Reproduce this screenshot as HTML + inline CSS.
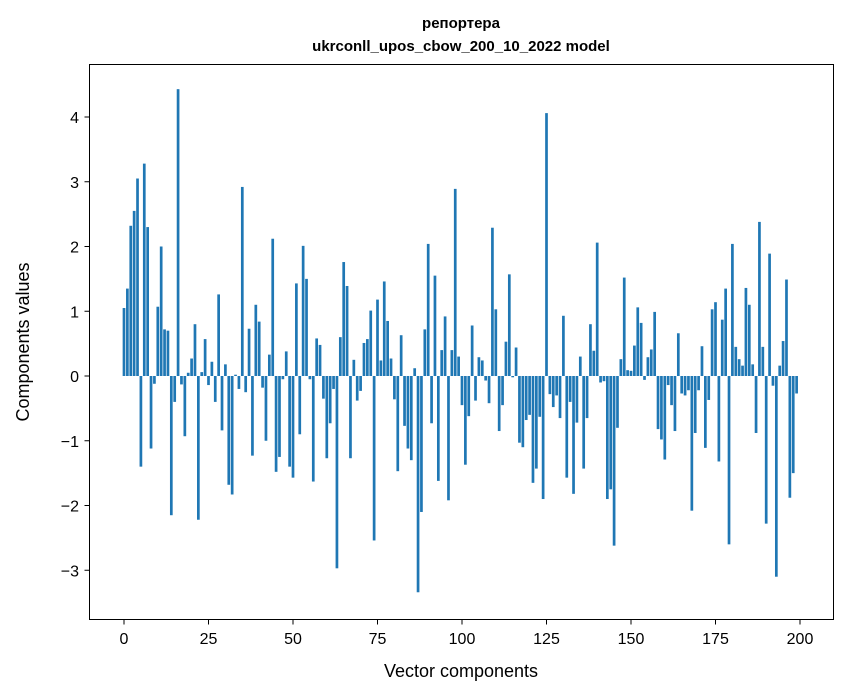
<!DOCTYPE html>
<html><head><meta charset="utf-8"><style>
body{margin:0;background:#fff;}
svg{display:block;font-family:"Liberation Sans","DejaVu Sans",sans-serif;}
</style></head><body>
<svg id="chart" width="847" height="696" viewBox="0 0 847 696">
<text x="461" y="28" text-anchor="middle" font-size="15" font-weight="bold">репортера</text>
<text x="461" y="51" text-anchor="middle" font-size="15" font-weight="bold">ukrconll_upos_cbow_200_10_2022 model</text>
<g id="bars"></g>
<rect x="89.5" y="64.5" width="744" height="555" fill="none" stroke="#000" stroke-width="1"/>
<g id="xticks"></g>
<g id="yticks"></g>
<text x="461" y="677" text-anchor="middle" font-size="18">Vector components</text>
<text transform="translate(29,342) rotate(-90)" text-anchor="middle" font-size="18">Components values</text>
</svg>
<script>
const values=[1.05,1.35,2.32,2.55,3.05,-1.4,3.28,2.3,-1.12,-0.12,1.07,2.0,0.72,0.7,-2.15,-0.4,4.43,-0.13,-0.93,0.05,
0.27,0.8,-2.22,0.06,0.57,-0.14,0.22,-0.4,1.26,-0.84,0.18,-1.68,-1.83,0.02,-0.2,2.92,-0.25,0.73,-1.23,1.1,
0.84,-0.18,-1.0,0.33,2.12,-1.48,-1.25,-0.05,0.38,-1.4,-1.57,1.43,-0.9,2.01,1.5,-0.05,-1.63,0.58,0.48,-0.35,
-1.27,-0.73,-0.2,-2.97,0.6,1.76,1.39,-1.27,0.25,-0.38,-0.23,0.51,0.57,1.01,-2.54,1.18,0.24,1.46,0.85,0.27,
-0.36,-1.47,0.63,-0.77,-1.12,-1.3,0.12,-3.34,-2.1,0.72,2.04,-0.73,1.55,-1.62,0.4,0.92,-1.92,0.4,2.89,0.3,
-0.45,-1.37,-0.62,0.78,-0.38,0.29,0.24,-0.07,-0.42,2.29,1.03,-0.85,-0.45,0.53,1.57,-0.02,0.44,-1.03,-1.1,-0.68,
-0.6,-1.65,-1.43,-0.63,-1.9,4.06,-0.28,-0.48,-0.3,-0.65,0.93,-1.57,-0.4,-1.82,-0.72,0.3,-1.43,-0.65,0.8,0.39,
2.06,-0.1,-0.08,-1.9,-1.75,-2.62,-0.8,0.26,1.52,0.09,0.08,0.47,1.06,0.82,-0.06,0.29,0.41,0.99,-0.82,-0.98,
-1.29,-0.14,-0.45,-0.85,0.66,-0.27,-0.3,-0.22,-2.08,-0.88,-0.22,0.46,-1.11,-0.37,1.03,1.14,-1.32,0.87,1.35,-2.6,
2.04,0.45,0.26,0.16,1.36,1.1,0.18,-0.88,2.38,0.45,-2.28,1.89,-0.15,-3.1,0.16,0.54,1.49,-1.88,-1.5,-0.27];
const xTickLabels=["0","25","50","75","100","125","150","175","200"];
const xTickValues=[0,25,50,75,100,125,150,175,200];
const yTickValues=[-3,-2,-1,0,1,2,3,4];
const yTickLabels=["−3","−2","−1","0","1","2","3","4"];
const NS="http://www.w3.org/2000/svg";
function xs(v){return 124+v*3.38;}
function ys(v){return 376-v*64.75;}
const bars=document.getElementById('bars');
values.forEach((v,i)=>{
  const r=document.createElementNS(NS,'rect');
  const w=0.8*3.38;
  r.setAttribute('x',xs(i)-w/2);
  r.setAttribute('width',w);
  r.setAttribute('y',Math.min(ys(v),ys(0)));
  r.setAttribute('height',Math.abs(ys(v)-ys(0)));
  r.setAttribute('fill','#1f77b4');
  
  
  bars.appendChild(r);
});
const xt=document.getElementById('xticks');
xTickValues.forEach((v,i)=>{
  const l=document.createElementNS(NS,'line');
  l.setAttribute('x1',xs(v));l.setAttribute('x2',xs(v));
  l.setAttribute('y1',619.5);l.setAttribute('y2',624.5);
  l.setAttribute('stroke','#000');
  
  
  xt.appendChild(l);
  const t=document.createElementNS(NS,'text');
  t.setAttribute('x',xs(v));t.setAttribute('y',644);
  t.setAttribute('text-anchor','middle');t.setAttribute('font-size','16');
  t.textContent=xTickLabels[i];
  
  
  xt.appendChild(t);
});
const yt=document.getElementById('yticks');
yTickValues.forEach((v,i)=>{
  const l=document.createElementNS(NS,'line');
  l.setAttribute('x1',84.5);l.setAttribute('x2',89.5);
  l.setAttribute('y1',ys(v));l.setAttribute('y2',ys(v));
  l.setAttribute('stroke','#000');
  
  
  yt.appendChild(l);
  const t=document.createElementNS(NS,'text');
  t.setAttribute('x',79);t.setAttribute('y',ys(v)+6);
  t.setAttribute('text-anchor','end');t.setAttribute('font-size','16');
  t.textContent=yTickLabels[i];
  
  
  yt.appendChild(t);
});
</script>
</body></html>
